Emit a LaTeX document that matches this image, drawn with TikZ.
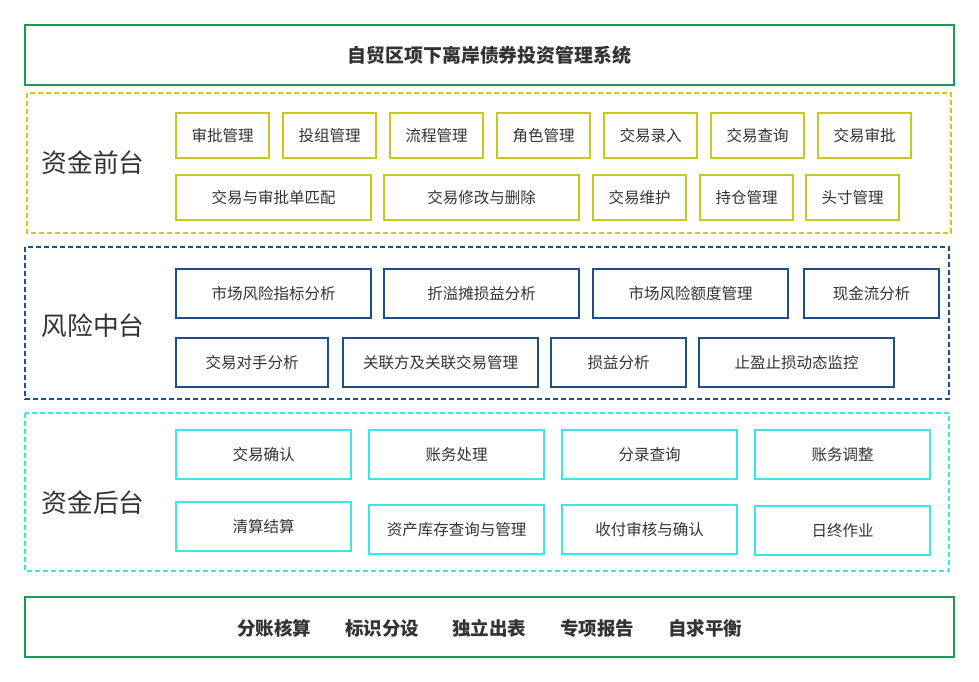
\documentclass[tikz,border=0pt]{standalone}
\usepackage{fontspec}
\setmainfont{Noto Sans CJK SC}
\begin{document}
\begin{tikzpicture}[x=1pt,y=-1pt,
  grp/.style={line width=1.3pt,dash pattern=on 5pt off 3pt},
  b/.style={draw,line width=1.5pt,font=\fontsize{15.5}{17}\selectfont,text=black!80,inner sep=0pt},
  lab/.style={font=\fontsize{25.7}{27}\selectfont,text=black!80}]
\useasboundingbox (0,0) rectangle (979,682);
\definecolor{gr}{HTML}{1A9A55}
\definecolor{yl}{HTML}{C8C81E}
\definecolor{bl}{HTML}{1F4E8C}
\definecolor{cy}{HTML}{3CE6E6}
\node[draw=gr,line width=1.5pt,minimum width=929pt,minimum height=60pt,font=\fontsize{18.9}{21}\selectfont\bfseries,text=black!80] (top) at (489.5,55) {自贸区项下离岸债券投资管理系统};
\node[draw=gr,line width=1.5pt,minimum width=929pt,minimum height=60pt] (bot) at (489.5,627) {};
\foreach \t/\x [count=\i] in {分账核算/274,标识分设/382,独立出表/489,专项报告/597,自求平衡/705}
  \node[font=\fontsize{18.5}{20}\selectfont\bfseries,text=black!80] (bt\i) at (\x,628) {\t};
\draw[grp,draw=yl] (27,93) rectangle (951,233);
\draw[grp,draw=bl] (25,247) rectangle (949,399);
\draw[grp,draw=cy] (25,413) rectangle (949,571);
\node[lab] (l1) at (93,163) {资金前台};
\node[lab] (l2) at (93,326) {风险中台};
\node[lab] (l3) at (93,503) {资金后台};
\newcommand\mybox[7]{\node[#1,minimum width=#4-#3,minimum height=#6-#5] (#2) at ({(#3+#4)/2},{(#5+#6)/2}) {#7};}
\mybox{b,draw=yl}{y1}{176}{269}{113}{158}{审批管理}
\mybox{b,draw=yl}{y2}{283}{376}{113}{158}{投组管理}
\mybox{b,draw=yl}{y3}{390}{483}{113}{158}{流程管理}
\mybox{b,draw=yl}{y4}{497}{590}{113}{158}{角色管理}
\mybox{b,draw=yl}{y5}{604}{697}{113}{158}{交易录入}
\mybox{b,draw=yl}{y6}{711}{804}{113}{158}{交易查询}
\mybox{b,draw=yl}{y7}{818}{911}{113}{158}{交易审批}
\mybox{b,draw=yl}{y8}{176}{371}{175}{220}{交易与审批单匹配}
\mybox{b,draw=yl}{y9}{384}{579}{175}{220}{交易修改与删除}
\mybox{b,draw=yl}{y10}{593}{686}{175}{220}{交易维护}
\mybox{b,draw=yl}{y11}{700}{793}{175}{220}{持仓管理}
\mybox{b,draw=yl}{y12}{806}{899}{175}{220}{头寸管理}
\mybox{b,draw=bl}{m1}{176}{371}{269}{318}{市场风险指标分析}
\mybox{b,draw=bl}{m2}{384}{579}{269}{318}{折溢摊损益分析}
\mybox{b,draw=bl}{m3}{593}{788}{269}{318}{市场风险额度管理}
\mybox{b,draw=bl}{m4}{804}{939}{269}{318}{现金流分析}
\mybox{b,draw=bl}{m5}{176}{328}{338}{387}{交易对手分析}
\mybox{b,draw=bl}{m6}{343}{538}{338}{387}{关联方及关联交易管理}
\mybox{b,draw=bl}{m7}{551}{686}{338}{387}{损益分析}
\mybox{b,draw=bl}{m8}{699}{894}{338}{387}{止盈止损动态监控}
\mybox{b,draw=cy}{c1}{176}{351}{430}{479}{交易确认}
\mybox{b,draw=cy}{c2}{369}{544}{430}{479}{账务处理}
\mybox{b,draw=cy}{c3}{562}{737}{430}{479}{分录查询}
\mybox{b,draw=cy}{c4}{755}{930}{430}{479}{账务调整}
\mybox{b,draw=cy}{c5}{176}{351}{502}{551}{清算结算}
\mybox{b,draw=cy}{c6}{369}{544}{505}{554}{资产库存查询与管理}
\mybox{b,draw=cy}{c7}{562}{737}{505}{554}{收付审核与确认}
\mybox{b,draw=cy}{c8}{755}{930}{506}{555}{日终作业}
\end{tikzpicture}
\end{document}
